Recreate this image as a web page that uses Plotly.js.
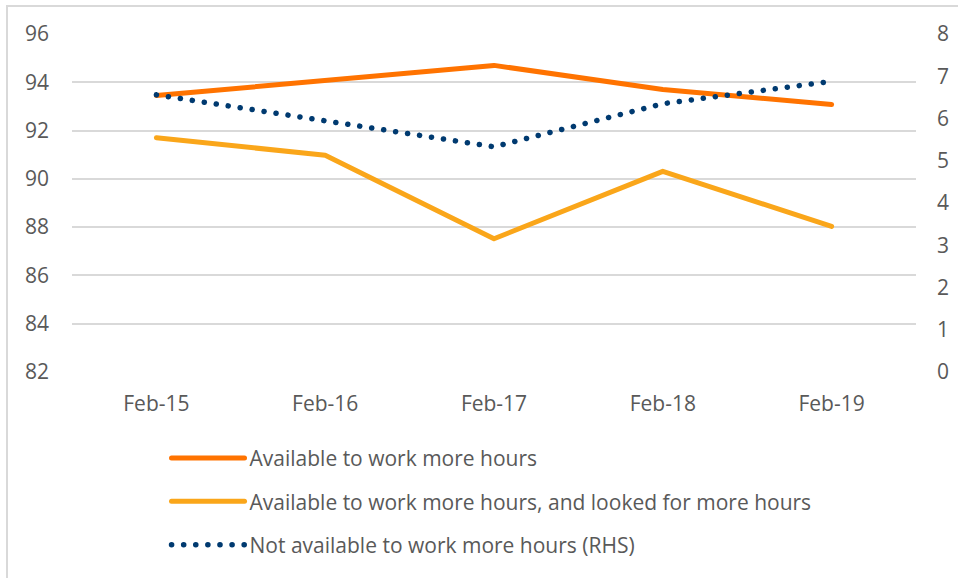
<!DOCTYPE html>
<html><head><meta charset="utf-8">
<script src="https://cdn.plot.ly/plotly-3.0.1.min.js"></script>
<style>
html,body{margin:0;padding:0;background:#fff;}
#frame{position:absolute;left:6px;top:5px;width:960px;height:580px;border-left:2px solid #D9D9D9;border-top:2px solid #D9D9D9;}
#chart{position:absolute;left:0;top:0;width:958px;height:578px;}
.js-line{stroke-linecap:round;stroke-linejoin:round;}
</style></head>
<body>
<div id="frame"></div>
<div id="chart"></div>
<script>
const categories = ["Feb-15","Feb-16","Feb-17","Feb-18","Feb-19"];
const availableMore = [93.45, 94.1, 94.7, 93.7, 93.08];
const availableLooked = [91.7, 90.98, 87.52, 90.31, 88.03];
const notAvailableRHS = [6.56, 5.95, 5.33, 6.35, 6.88];
const leftTicks = [82,84,86,88,90,92,94,96];
const rightTicks = [0,1,2,3,4,5,6,7,8];

const font = {family: "Open Sans, sans-serif", size: 21, color: "#595959"};
const traces = [
  {x: categories, y: availableMore, type: "scatter", mode: "lines", name: "Available to work more hours",
   line: {color: "#FF7300", width: 5}, legendgroup: "a"},
  {x: categories, y: availableLooked, type: "scatter", mode: "lines", name: "Available to work more hours, and looked for more hours",
   line: {color: "#FAA61A", width: 5}, legendgroup: "b"},
  {x: categories, y: notAvailableRHS, type: "scatter", mode: "lines", name: "Not available to work more hours (RHS)",
   line: {color: "#003A70", width: 5.5, dash: "0.1px,12px"}, yaxis: "y2", legendgroup: "c"}
];
const layout = {
  width: 958, height: 578,
  margin: {l: 72, r: 42, t: 34, b: 206},
  paper_bgcolor: "rgba(0,0,0,0)", plot_bgcolor: "rgba(0,0,0,0)",
  font: font,
  showlegend: true,
  xaxis: {type: "category", range: [-0.5, 4.5], showgrid: false, zeroline: false, showline: false,
          ticks: "", tickfont: font, ticklabelstandoff: 17, fixedrange: true},
  yaxis: {range: [82, 96], tickvals: leftTicks, showgrid: true, gridcolor: "#D9D9D9", gridwidth: 2,
          zeroline: false, showline: false, ticks: "", tickfont: font, ticklabelstandoff: 22},
  yaxis2: {range: [0, 8], tickvals: rightTicks, overlaying: "y", side: "right", showgrid: false,
           zeroline: false, showline: false, ticks: "", tickfont: font, ticklabelstandoff: 20},
  legend: {x: 0.112, xanchor: "left", y: -0.195, yanchor: "top", orientation: "v",
           font: font, tracegroupgap: 13, bgcolor: "rgba(0,0,0,0)", itemwidth: 73}
};
Plotly.newPlot("chart", traces, layout, {displayModeBar: false, staticPlot: true});
</script>
</body></html>
